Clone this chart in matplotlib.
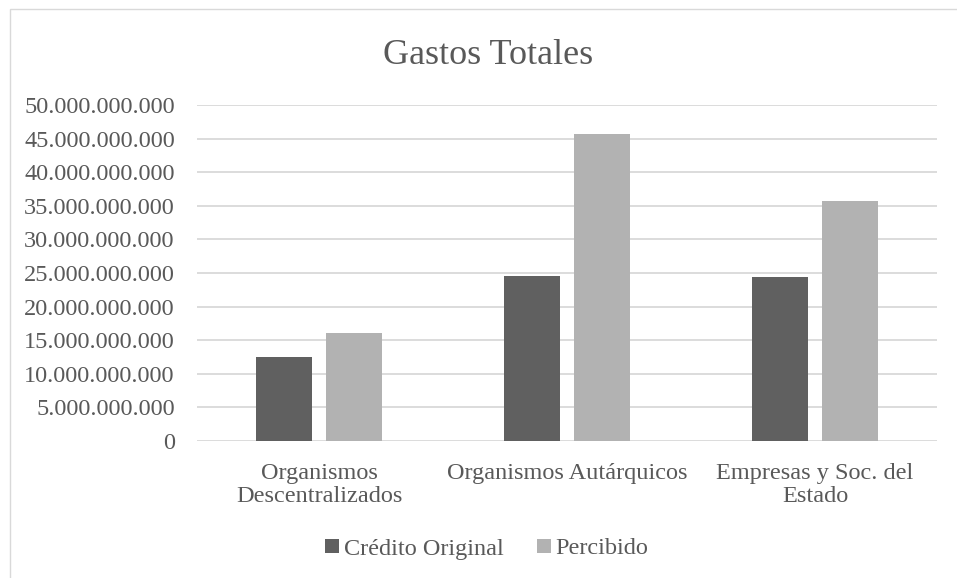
import matplotlib
matplotlib.use("Agg")
import matplotlib.pyplot as plt
import numpy as np
from matplotlib.ticker import FuncFormatter
from matplotlib.patches import Rectangle

categories = ["Organismos\nDescentralizados", "Organismos Autárquicos", "Empresas y Soc. del\nEstado"]
series_names = ["Crédito Original", "Percibido"]
credito = [12.5e9, 24.5e9, 24.4e9]
percibido = [16.0e9, 45.7e9, 35.7e9]
yticks = [i * 5e9 for i in range(11)]

plt.rcParams['font.family'] = ['Liberation Serif', 'DejaVu Serif']
txt = '#595959'
W, H = 957, 578
fig = plt.figure(figsize=(W / 100, H / 100), dpi=100)
fig.patches.append(Rectangle((10 / W, 0 - 0.1), 2, 1 - 9 / H + 0.1, transform=fig.transFigure,
                             fill=False, edgecolor='#d9d9d9', linewidth=1, zorder=0))
ax = fig.add_axes([197 / W, 1 - 441 / H, (937 - 197) / W, (441 - 105) / H])

x = np.arange(len(categories))
w = 0.226
off = 0.142
ax.bar(x - off, credito, width=w, color='#606060', label=series_names[0], zorder=3)
ax.bar(x + off, percibido, width=w, color='#b2b2b2', label=series_names[1], zorder=3)

ax.set_xlim(-0.492, 2.492)
ax.set_ylim(0, 50e9)
ax.set_yticks(yticks)
ax.yaxis.set_major_formatter(FuncFormatter(lambda v, p: f"{int(round(v)):,}".replace(",", ".")))
ax.set_xticks(x)
ax.set_xticklabels(categories, linespacing=1.08)
ax.grid(axis='y', color='#d9d9d9', linewidth=1.3, zorder=0)
for s in ax.spines.values():
    s.set_visible(False)
ax.tick_params(axis='both', length=0, labelsize=17.5, colors=txt)
ax.tick_params(axis='x', pad=16)
ax.tick_params(axis='y', pad=16)

fig.text(488 / W, 1 - 56 / H, "Gastos Totales", ha='center', va='center', fontsize=26, color=txt)

leg = fig.legend(loc='center', bbox_to_anchor=(487 / W, 1 - 549 / H), ncol=2, frameon=False,
                 fontsize=17.5, handlelength=0.55, handleheight=0.55, handletextpad=0.2,
                 columnspacing=1.4, labelcolor=txt)

fig.savefig("out.png", dpi=100, facecolor='white')
